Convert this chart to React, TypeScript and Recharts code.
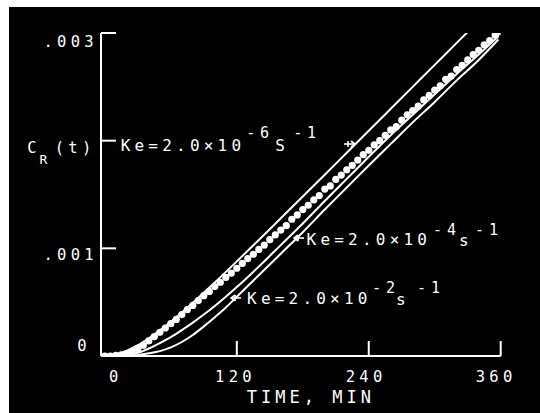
import React from 'react';
import { ComposedChart, Line, Scatter, XAxis, YAxis, ReferenceDot } from 'recharts';

// time in minutes, C_R(t) in units of 10^-3
const curve6Times = [0, 10, 20, 30, 40, 50, 60, 70, 80, 90, 100, 120, 140, 160, 180, 200, 220, 240, 260, 280, 300, 320, 331];
const curve6Values = [0, 0.013, 0.049, 0.1, 0.165, 0.238, 0.319, 0.405, 0.495, 0.588, 0.683, 0.879, 1.077, 1.279, 1.481, 1.684, 1.888, 2.092, 2.296, 2.5, 2.704, 2.908, 3.02];

const curve4Times = [0, 10, 20, 30, 40, 50, 60, 70, 80, 90, 100, 110, 120, 140, 160, 180, 200, 220, 240, 260, 280, 300, 320, 340, 358];
const curve4Values = [0, 0.002, 0.01, 0.03, 0.07, 0.12, 0.175, 0.24, 0.31, 0.385, 0.465, 0.55, 0.64, 0.83, 1.03, 1.23, 1.44, 1.645, 1.85, 2.05, 2.24, 2.43, 2.62, 2.8, 2.97];

const curve2Times = [0, 10, 20, 30, 40, 50, 60, 70, 80, 90, 100, 110, 120, 140, 160, 180, 200, 220, 240, 260, 280, 300, 320, 340, 358];
const curve2Values = [0, 0, 0.002, 0.01, 0.025, 0.045, 0.08, 0.13, 0.195, 0.275, 0.36, 0.45, 0.55, 0.75, 0.95, 1.15, 1.36, 1.565, 1.77, 1.97, 2.17, 2.36, 2.56, 2.75, 2.94];

const measuredTimes = [0, 5, 10, 15, 20, 25, 30, 35, 40, 45, 50, 55, 60, 65, 70, 75, 80, 85, 90, 95, 100, 105, 110, 115, 120, 125, 130, 135, 140, 145, 150, 155, 160, 165, 170, 175, 180, 185, 190, 195, 200, 205, 210, 215, 220, 225, 230, 235, 240, 245, 250, 255, 260, 265, 270, 275, 280, 285, 290, 295, 300, 305, 310, 315, 320, 325, 330, 335, 340, 345, 350, 355, 358];
const measuredValues = [0, 0, 0.005, 0.01, 0.02, 0.04, 0.07, 0.1, 0.14, 0.18, 0.22, 0.26, 0.3, 0.34, 0.385, 0.43, 0.47, 0.515, 0.56, 0.6, 0.645, 0.685, 0.73, 0.77, 0.815, 0.86, 0.905, 0.945, 0.99, 1.03, 1.08, 1.125, 1.17, 1.21, 1.27, 1.31, 1.36, 1.4, 1.45, 1.49, 1.55, 1.58, 1.64, 1.68, 1.73, 1.77, 1.82, 1.87, 1.91, 1.96, 2.0, 2.05, 2.1, 2.13, 2.19, 2.24, 2.28, 2.32, 2.38, 2.42, 2.47, 2.51, 2.57, 2.6, 2.66, 2.7, 2.75, 2.8, 2.84, 2.89, 2.93, 2.98, 3.01];

const xTicks = [0, 120, 240, 360];
const xTickLabels = ['0', '120', '240', '360'];
const yTicks = [0, 1, 2, 3];
const yTickLabels = ['0', '.001', 'C_R(t)', '.003'];
const xAxisTitle = 'TIME, MIN';

const FONT = '"DejaVu Sans Mono", monospace';

const toRows = (ts: number[], vs: number[]) => ts.map((t, i) => ({ t, y: vs[i] }));
const curve6 = toRows(curve6Times, curve6Values);
const curve4 = toRows(curve4Times, curve4Values);
const curve2 = toRows(curve2Times, curve2Values);
const measured = toRows(measuredTimes, measuredValues);

const tickFont = { fill: '#fff', fontFamily: FONT, fontSize: 15.5, letterSpacing: 4.3 };

const XTick = (props: any) => {
  const { x, y, payload } = props;
  const i = xTicks.indexOf(payload.value);
  const dxs = [8.8, -3.4, -4.7, -6.7];
  const label = xTickLabels[i];
  return (
    <g>
      {i > 0 && <line x1={x} x2={x} y1={y} y2={y - 15} stroke="#fff" strokeWidth={2} />}
      <text
        x={x + dxs[i] + (label.length > 1 ? 2.15 : 0)}
        y={y + 26.3}
        textAnchor="middle"
        {...tickFont}
        letterSpacing={label.length > 1 ? 4.3 : 0}
      >
        {label}
      </text>
    </g>
  );
};

const YTick = (props: any) => {
  const { x, y, payload } = props;
  const i = yTicks.indexOf(payload.value);
  const label = yTickLabels[i];
  if (i === 0) {
    return (
      <text x={x - 19} y={y - 11 + 5.6} textAnchor="middle" {...tickFont} letterSpacing={0}>
        {label}
      </text>
    );
  }
  const tick = <line x1={x} x2={x + 15} y1={y} y2={y} stroke="#fff" strokeWidth={2} />;
  if (label.includes('_')) {
    const [base, rest] = label.split('_');
    const sub = rest.charAt(0);
    const tail = rest.slice(1);
    return (
      <g>
        {tick}
        <text x={x - 69.2} y={y + 7 + 5.6} textAnchor="middle" {...tickFont} letterSpacing={0}>{base}</text>
        <text x={x - 57.5} y={y + 23.4} textAnchor="middle" fill="#fff" fontFamily={FONT} fontSize={13}>{sub}</text>
        <text x={x - 28 + 2.15} y={y + 7 + 5.6} textAnchor="middle" {...tickFont}>{tail}</text>
      </g>
    );
  }
  const dy = i === 3 ? 8 : 6;
  return (
    <g>
      {tick}
      <text x={x - 32.5 + 2.15} y={y + dy + 5.6} textAnchor="middle" {...tickFont}>
        {label}
      </text>
    </g>
  );
};

const mainFont = { fill: '#fff', fontFamily: FONT, fontSize: 16 };
const supFont = { fill: '#fff', fontFamily: FONT, fontSize: 15 };

type Piece = { text: string; dx: number; dy: number; sup?: boolean };

// spacing between glyphs without trailing space after the last glyph
const gapList = (n: number, gap: number) => [0, ...Array(Math.max(n - 1, 0)).fill(gap)].join(' ');

const KeLabel = ({ x, y, pieces }: { x: number; y: number; pieces: Piece[] }) => (
  <g>
    {pieces.map((p, k) => (
      <text
        key={k}
        x={x + p.dx}
        y={y + p.dy + (p.sup ? 5.5 : 5.8)}
        dx={gapList(p.text.length, p.sup ? 4.8 : 4.2)}
        {...(p.sup ? supFont : mainFont)}
      >
        {p.text}
      </text>
    ))}
  </g>
);

const LeftArrow = ({ cx, cy, len }: { cx: number; cy: number; len: number }) => (
  <g stroke="#fff" strokeWidth={1.6} fill="none">
    <line x1={cx} y1={cy} x2={cx + len} y2={cy} />
    <polyline points={`${cx + 4},${cy - 3} ${cx},${cy} ${cx + 4},${cy + 3}`} />
    <line x1={cx + 4} y1={cy - 3} x2={cx + 4} y2={cy + 3} />
  </g>
);

const RightArrow = ({ cx, cy, len }: { cx: number; cy: number; len: number }) => (
  <g stroke="#fff" strokeWidth={1.6} fill="none">
    <line x1={cx - len} y1={cy} x2={cx} y2={cy} />
    <polyline points={`${cx - 4},${cy - 3} ${cx},${cy} ${cx - 4},${cy + 3}`} />
    <line x1={cx - 7} y1={cy - 3} x2={cx - 7} y2={cy + 3} />
  </g>
);

const label6: Piece[] = [
  { text: 'Ke=2.0×10', dx: 0, dy: 0 },
  { text: '-6', dx: 125.5, dy: -12, sup: true },
  { text: 'S', dx: 154.5, dy: 0 },
  { text: '-1', dx: 172.5, dy: -12, sup: true },
];
const label4: Piece[] = [
  { text: 'Ke=2.0×10', dx: 0, dy: 0 },
  { text: '-4', dx: 126.5, dy: -9, sup: true },
  { text: 's', dx: 152.5, dy: 1.6 },
  { text: '-1', dx: 168.5, dy: -9, sup: true },
];
const label2: Piece[] = [
  { text: 'Ke=2.0×10', dx: 0, dy: 0 },
  { text: '-2', dx: 125, dy: -10, sup: true },
  { text: 's', dx: 149, dy: 1.6 },
  { text: '-1', dx: 170, dy: -10, sup: true },
];

const XTitle = (props: any) => {
  const { viewBox } = props;
  const cx = viewBox.x + viewBox.width / 2 + 8 + 2;
  return (
    <text x={cx} y={viewBox.y + 40.3 + 6.2} textAnchor="middle" fill="#fff" fontFamily={FONT} fontSize={17} letterSpacing={4}>
      {xAxisTitle}
    </text>
  );
};

export default function App() {
  return (
    <div style={{ position: 'absolute', left: 0, top: 0, width: 540, height: 413, background: '#fff' }}>
      <div style={{ position: 'absolute', left: 9, top: 7, width: 531, height: 406, background: '#000' }}>
        <ComposedChart width={531} height={406} margin={{ top: 26, right: 39.3, bottom: 17, left: 32 }}>
          <XAxis
            dataKey="t"
            type="number"
            domain={[-3.5, 360]}
            ticks={xTicks}
            allowDataOverflow
            height={40}
            tickSize={0}
            tickMargin={0}
            tickLine={false}
            axisLine={{ stroke: '#fff', strokeWidth: 2 }}
            tick={<XTick />}
            label={{ content: <XTitle /> }}
          />
          <YAxis
            dataKey="y"
            type="number"
            domain={[0, 3]}
            ticks={yTicks}
            allowDataOverflow
            width={60}
            tickSize={0}
            tickMargin={0}
            tickLine={false}
            axisLine={{ stroke: '#fff', strokeWidth: 2 }}
            tick={<YTick />}
          />
          <Line data={curve6} dataKey="y" type="monotone" stroke="#fff" strokeWidth={2} dot={false} isAnimationActive={false} />
          <Line data={curve4} dataKey="y" type="monotone" stroke="#fff" strokeWidth={2} dot={false} isAnimationActive={false} />
          <Line data={curve2} dataKey="y" type="monotone" stroke="#fff" strokeWidth={2} dot={false} isAnimationActive={false} />
          <Scatter
            data={measured}
            dataKey="y"
            fill="#fff"
            isAnimationActive={false}
            shape={(p: any) => <circle cx={p.cx} cy={p.cy} r={3.6} fill="#fff" />}
          />
          <ReferenceDot x={14.4} y={1.96} r={0} shape={(p: any) => <KeLabel x={p.cx} y={p.cy} pieces={label6} />} />
          <ReferenceDot x={227.5} y={1.969} r={0} shape={(p: any) => <RightArrow cx={p.cx} cy={p.cy} len={11} />} />
          <ReferenceDot
            x={172.1}
            y={1.096}
            r={0}
            shape={(p: any) => (
              <g>
                <LeftArrow cx={p.cx} cy={p.cy} len={10} />
                <KeLabel x={p.cx + 12.5} y={p.cy + 1} pieces={label4} />
              </g>
            )}
          />
          <ReferenceDot
            x={114.8}
            y={0.539}
            r={0}
            shape={(p: any) => (
              <g>
                <LeftArrow cx={p.cx} cy={p.cy} len={10} />
                <KeLabel x={p.cx + 16} y={p.cy} pieces={label2} />
              </g>
            )}
          />
        </ComposedChart>
      </div>
    </div>
  );
}
